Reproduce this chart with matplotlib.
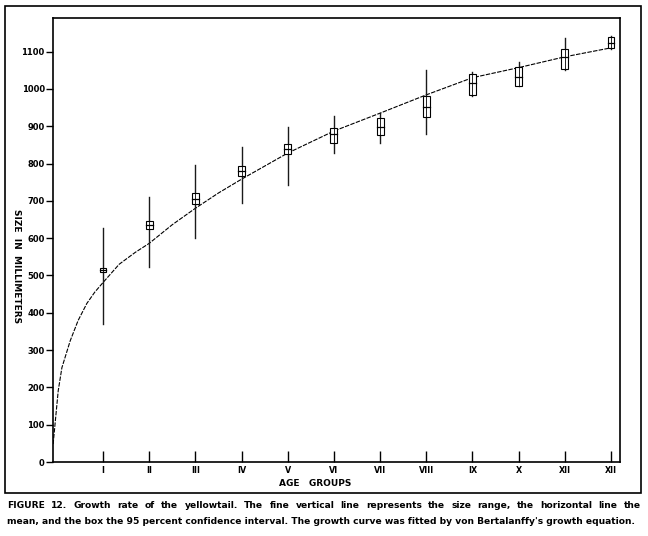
import matplotlib
matplotlib.use('Agg')
import matplotlib.pyplot as plt
from matplotlib.patches import Rectangle

# age groups (as labelled on the original figure)
ages = [1, 2, 3, 4, 5, 6, 7, 8, 9, 10, 11, 12]
age_labels = ['I', 'II', 'III', 'IV', 'V', 'VI', 'VII', 'VIII', 'IX', 'X', 'XII', 'XII']

# size range (fine vertical line), mm
range_low = [371, 522, 600, 694, 742, 828, 855, 879, 982, 1008, 1051, 1108]
range_high = [626, 710, 796, 844, 898, 927, 935, 1051, 1045, 1073, 1137, 1142]
# mean (horizontal line), mm
means = [514, 634, 706, 780, 839, 879, 898, 952, 1016, 1032, 1086, 1124]
# 95 percent confidence interval (box), mm
ci_low = [508, 624, 691, 766, 825, 855, 876, 925, 984, 1008, 1054, 1110]
ci_high = [521, 645, 720, 793, 852, 895, 922, 981, 1040, 1059, 1108, 1140]

# von Bertalanffy curve
curve_t = [-0.08, 0.03, 0.11, 0.29, 0.46, 0.65, 0.82, 1.0, 1.35, 1.7, 2, 2.5, 3, 3.5, 4, 5, 6, 7, 8, 9, 10, 11, 12]
curve_mm = [48, 191, 253, 325, 379, 425, 455, 481, 530, 562, 586, 636, 680, 721, 758, 828, 887, 935, 984, 1030, 1057,
            1086, 1110]

yticks = list(range(0, 1200, 100))

caption1 = ("FIGURE 12.  Growth rate of the yellowtail. The fine vertical line represents the size range, "
            "the horizontal line the")
caption2 = ("mean, and the box the 95 percent confidence interval. The growth curve was fitted by "
            "von Bertalanffy's growth equation.")

fig = plt.figure(figsize=(6.48, 5.36), dpi=100)
ax = fig.add_axes([53 / 648, 1 - 462 / 536, 567 / 648, 444 / 536])

ax.plot(curve_t, curve_mm, color='black', lw=0.8, ls=(0, (4, 1.2)))

bw = 0.15
for i, a in enumerate(ages):
    ax.plot([a, a], [range_low[i], range_high[i]], color='#1a1a1a', lw=1.0)
    ax.add_patch(Rectangle((a - bw / 2, ci_low[i]), bw, ci_high[i] - ci_low[i],
                           fill=True, facecolor='white', edgecolor='black', lw=0.8, zorder=3))
    ax.plot([a - bw / 2, a + bw / 2], [means[i], means[i]], color='black', lw=0.9, zorder=4)
    # range line continues through the box
    ax.plot([a, a], [ci_low[i], ci_high[i]], color='black', lw=0.6, zorder=4)

ax.set_xlim(-0.083, 12.195)
ax.set_ylim(0, 1190)
ax.set_xticks(ages)
ax.set_xticklabels(age_labels, fontsize=5.8, fontweight='bold')
ax.set_yticks(yticks)
ax.set_yticklabels([str(v) for v in yticks], fontsize=6, fontweight='bold')
ax.tick_params(axis='x', direction='in', length=8, width=1.0, pad=3)
ax.tick_params(axis='y', direction='out', length=5, width=1.0, pad=1)
for s in ax.spines.values():
    s.set_linewidth(1.2)

fig.text(315 / 648, 1 - 484 / 536, 'AGE   GROUPS', ha='center', va='center',
         fontsize=6.5, fontweight='bold')
fig.text(16 / 648, 1 - 266 / 536, 'SIZE  IN  MILLIMETERS', ha='center', va='center',
         rotation=-90, fontsize=6.5, fontweight='bold')

# outer border of the figure plate
fig.add_artist(Rectangle((5 / 648, 1 - 493 / 536), 636 / 648, 487 / 536,
                         transform=fig.transFigure, fill=False, edgecolor='black', lw=1.2))


# caption, first line justified to the plate width like the original
def justified(line, y, x0, x1, size):
    renderer = fig.canvas.get_renderer()
    words = line.split()
    arts = [fig.text(0, y, w, ha='left', va='center', fontsize=size, fontweight='bold') for w in words]
    widths = [t.get_window_extent(renderer).width for t in arts]
    total = (x1 - x0) * fig.bbox.width
    gap = (total - sum(widths)) / (len(words) - 1)
    x = x0 * fig.bbox.width
    for t, w in zip(arts, widths):
        t.set_x(x / fig.bbox.width)
        x += w + gap


justified(caption1, 1 - 505 / 536, 7 / 648, 641 / 648, 6.6)
fig.text(7 / 648, 1 - 521 / 536, caption2, ha='left', va='center', fontsize=6.6, fontweight='bold')

fig.savefig('out.png', dpi=100)
